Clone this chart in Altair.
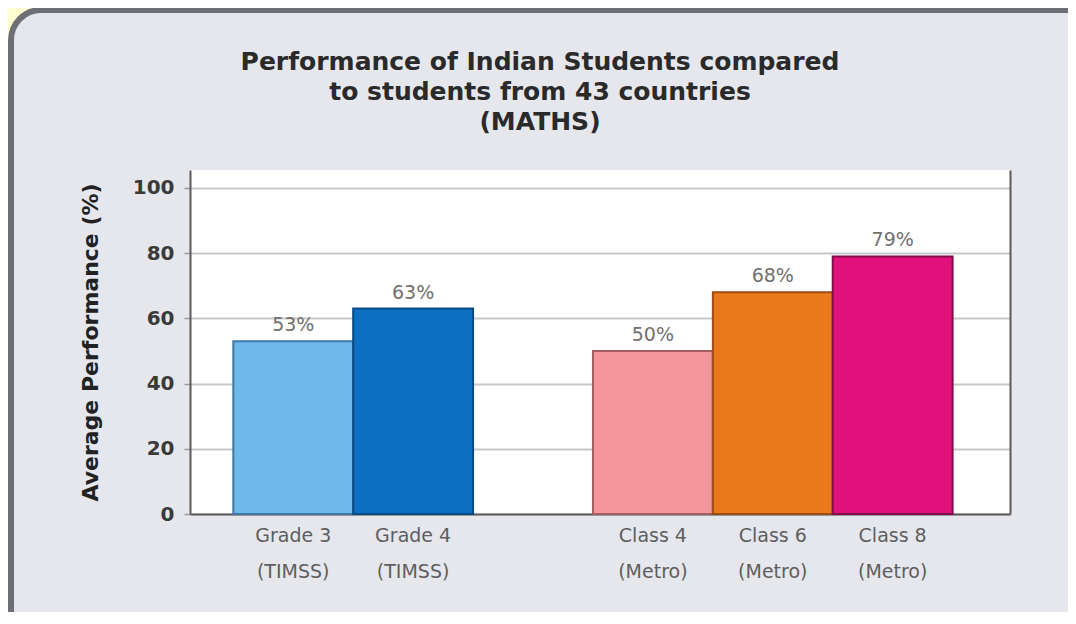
import altair as alt
import pandas as pd

# ---- data ----
categories = ["Grade 3|(TIMSS)", "Grade 4|(TIMSS)", "Class 4|(Metro)", "Class 6|(Metro)", "Class 8|(Metro)"]
values = [53, 63, 50, 68, 79]
value_labels = ["53%", "63%", "50%", "68%", "79%"]
gap_slot = "gap"
x_order = categories[:2] + [gap_slot] + categories[2:]
fill_colors = ["#6DB9EA", "#0B6FC2", "#F3979D", "#E9791B", "#E1127B"]
stroke_colors = ["#3F78A6", "#0A4A84", "#A25E60", "#9A4C12", "#860B4B"]
y_ticks = [0, 20, 40, 60, 80, 100]
title_lines = ["Performance of Indian Students compared",
               "to students from 43 countries",
               "(MATHS)"]
y_title = "Average Performance (%)"

df = pd.DataFrame({"cat": categories, "value": values, "label": value_labels})

W, H = 820, 344
PANEL = "#E5E7ED"
FONT = "DejaVu Sans"

x_scale = alt.Scale(domain=x_order, paddingInner=0, paddingOuter=0.42, align=0.43)
y_scale = alt.Scale(domain=[0, 105.5], nice=False, zero=True)

x_enc = alt.X(
    "cat:N", scale=x_scale, sort=x_order,
    axis=alt.Axis(
        title=None, labelAngle=0, ticks=False,
        labelExpr="datum.value == 'gap' ? '' : split(datum.value, '|')",
        domainColor="#5a5a5a", domainWidth=2,
        labelFont=FONT, labelFontSize=19, labelColor="#5e5e5e",
        labelPadding=12, labelLineHeight=36, labelBaseline="top",
    ),
)

base = alt.Chart(df)

bars = base.mark_bar(strokeWidth=2).encode(
    x=x_enc,
    y=alt.Y(
        "value:Q", scale=y_scale,
        axis=alt.Axis(
            values=y_ticks, title=y_title, grid=True,
            gridColor="#C6C7CA", gridWidth=2,
            domainColor="#5a5a5a", domainWidth=2,
            tickColor="#9a9a9a", tickSize=6, tickWidth=1.5,
            labelFont=FONT, labelFontSize=20, labelFontWeight="bold",
            labelColor="#3a3a3a", labelPadding=10,
            titleFont=FONT, titleFontSize=22, titleFontWeight="bold",
            titleColor="#222222", titlePadding=30,
        ),
    ),
    fill=alt.Fill("cat:N", scale=alt.Scale(domain=categories, range=fill_colors), legend=None),
    stroke=alt.Stroke("cat:N", scale=alt.Scale(domain=categories, range=stroke_colors), legend=None),
)

text = base.mark_text(
    baseline="bottom", dy=-6, font=FONT, fontSize=19, color="#707070"
).encode(
    x=x_enc,
    y=alt.Y(
        "value:Q", scale=y_scale,
        axis=alt.Axis(orient="right", labels=False, ticks=False, grid=False,
                      title=None, domainColor="#5a5a5a", domainWidth=2),
    ),
    text="label:N",
)

deco = alt.Chart(alt.Data(values=[{}]))
yellow_corner = deco.mark_rect(
    fillOpacity=0, stroke="#FFFFD2", strokeWidth=40, cornerRadius=50
).encode(x=alt.value(-199), x2=alt.value(1000), y=alt.value(-180), y2=alt.value(600))
panel_border = deco.mark_rect(
    fillOpacity=0, stroke="#6E6F75", strokeWidth=6, cornerRadius=30
).encode(x=alt.value(-179), x2=alt.value(1000), y=alt.value(-160), y2=alt.value(600))

title = deco.mark_text(
    text=title_lines, font=FONT, fontSize=25, fontWeight="bold", color="#2a2a2a",
    align="center", baseline="alphabetic", lineHeight=30,
).encode(x=alt.value(350), y=alt.value(-100))

chart = alt.layer(yellow_corner, panel_border, bars, text, title).resolve_axis(
    y="independent"
).properties(
    width=W, height=H,
    autosize=alt.AutoSizeParams(type="none"),
    padding={"left": 182, "top": 162, "right": 58, "bottom": 98},
).configure(background=PANEL).configure_view(fill="white", stroke=None)

chart.save("out.html", embed_options={"renderer": "svg", "actions": False})
